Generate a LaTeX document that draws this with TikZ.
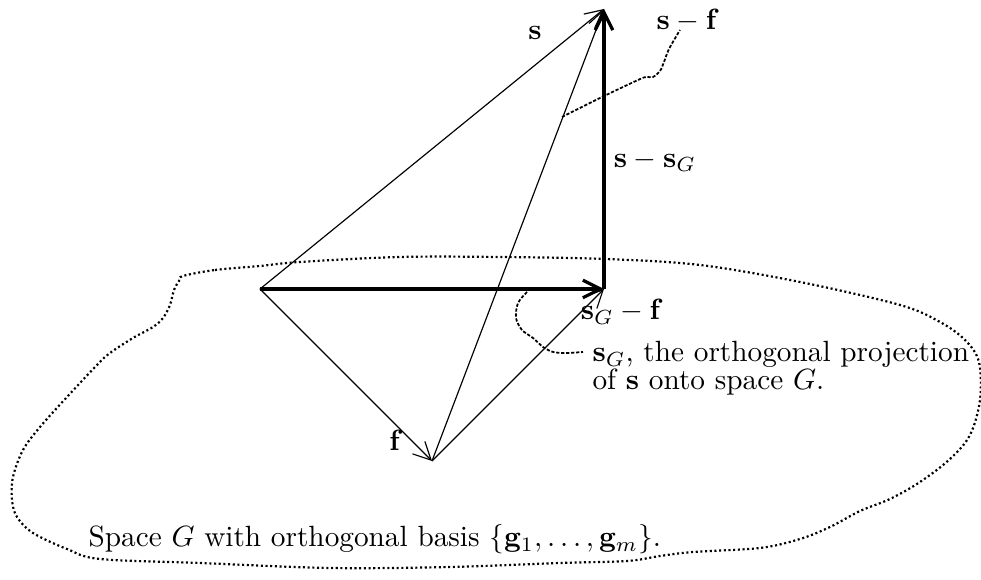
\documentclass[tikz,border=0pt]{standalone}
\usetikzlibrary{arrows.meta}
\begin{document}
\begin{tikzpicture}[x=0.3415pt,y=-0.3415pt,
  vec/.style={line width=0.4pt,-{Straight Barb[length=6pt,width=6pt]}},
  thickvec/.style={line width=1.1pt,-{Straight Barb[length=6pt,width=6pt]}},
  pointer/.style={line width=0.6pt,dash pattern=on 1.1pt off 0.6pt},
  region/.style={line width=0.75pt,dash pattern=on 0.7pt off 0.9pt},
  lbl/.style={inner sep=0pt}]
\useasboundingbox (0,0) rectangle (981,580);
% main points
\coordinate (O) at (260,289);
\coordinate (T) at (604,9);
\coordinate (P) at (604,289);
\coordinate (F) at (432,461);
\coordinate (A) at (562,117);
\coordinate (B) at (527,292);
% region G
\draw[region] plot[smooth cycle,tension=0.55] coordinates {
(183,276) (215,270) (260,266) (300,262) (400,257) (500,257) (605,259) (700,265)
(800,282) (900,305) (940,322) (965,340) (979,362) (980,400) (970,435) (950,459)
(920,482) (890,499) (860,511) (830,527) (800,539) (760,548) (693,552) (660,556)
(627,561) (560,563) (450,567) (330,568) (200,563) (100,559) (67,549) (33,533)
(17,517) (12,500) (13,477) (23,450) (40,427) (67,397) (97,365) (110,353)
(133,338) (153,327) (163,318) (170,305) (174,290) (179,281)};
% vectors
\draw[vec] (O) -- (T);
\draw[vec] (F) -- (T);
\draw[thickvec] (P) -- (T);
\draw[thickvec] (O) -- (P);
\draw[vec] (O) -- (F);
\draw[vec] (F) -- (P);
% pointers
\draw[pointer] plot[smooth,tension=0.5] coordinates {(A) (600,98) (638,80) (646,77) (653,77) (660,71) (664,62) (669,49) (680,30)};
\draw[pointer] plot[smooth,tension=0.5] coordinates {(B) (518,303) (516,318) (522,330) (533,338) (543,347) (553,352) (566,353) (583,352)};
% labels
\node[lbl] (ls) at (535,33) {$\mathbf{s}$};
\node[lbl] (lsf) at (688,21) {$\mathbf{s}-\mathbf{f}$};
\node[lbl] (lssg) at (655,161) {$\mathbf{s}-\mathbf{s}_G$};
\node[lbl] (lsgf) at (622,312) {$\mathbf{s}_G-\mathbf{f}$};
\node[lbl] (lf) at (396,440) {$\mathbf{f}$};
\node[lbl,anchor=base west,align=left] (lproj) at (592,362) {$\mathbf{s}_G$, the orthogonal projection};
\node[lbl,anchor=base west,align=left] (lproj2) at (592,390) {of $\mathbf{s}$ onto space $G$.};
\node[lbl,anchor=base west] (lspace) at (88,547) {Space $G$ with orthogonal basis $\{\mathbf{g}_1,\ldots,\mathbf{g}_m\}$.};
\end{tikzpicture}
\end{document}
